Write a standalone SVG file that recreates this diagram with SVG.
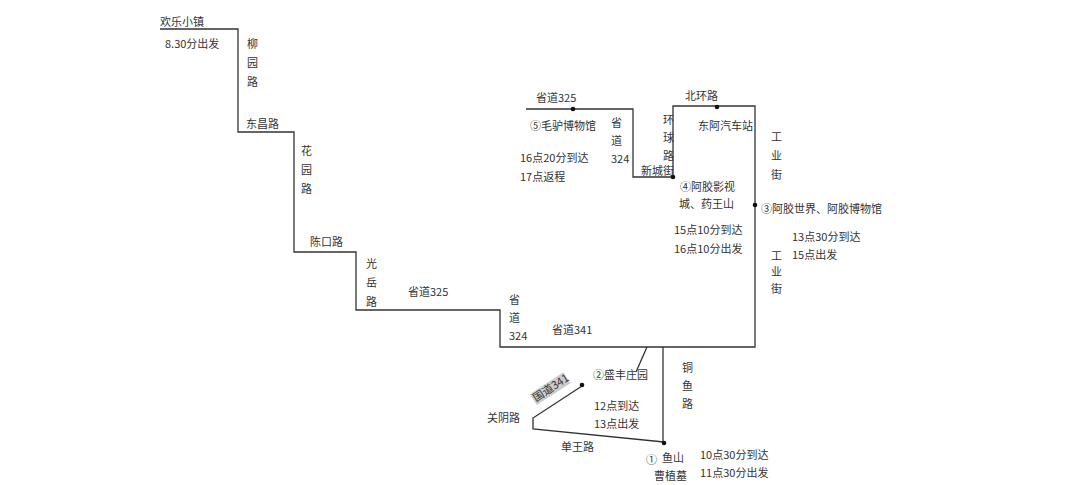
<svg xmlns="http://www.w3.org/2000/svg" width="1080" height="485" viewBox="0 0 1080 485">
<style>
.r{fill:none;stroke:#333;stroke-width:1.3}
text{font-family:"Noto Sans CJK SC","Noto Sans",sans-serif;font-size:11px;fill:#333}
.d{fill:#111}
</style>
<rect width="1080" height="485" fill="#fff"/>
<g id="connectors">
<polyline class="r" points="160,29 238,29 238,132 294,132 294,252 356,252 356,310 500,310 500,347 755,347 755,106 673,106 673,177 633,177 633,109 526,109"/>
<polyline class="r" points="647,347 636,372"/>
<polyline class="r" points="582,386 533,418 533,429 664,442"/>
<line class="r" x1="663" y1="347" x2="663" y2="443"/>
</g>
<g id="dots">
<circle class="d" cx="573" cy="109" r="2.3"/>
<circle class="d" cx="717" cy="107" r="2.3"/>
<circle class="d" cx="673" cy="177" r="2.3"/>
<circle class="d" cx="755" cy="205" r="2.3"/>
<circle class="d" cx="582" cy="385" r="2.3"/>
<circle class="d" cx="664" cy="443" r="2.3"/>
</g>
<g id="labels">
<text x="160" y="26">欢乐小镇</text>
<text x="165" y="48">8.30分出发</text>
<text x="247" y="48">柳</text><text x="247" y="67">园</text><text x="247" y="86">路</text>
<text x="246" y="128">东昌路</text>
<text x="301" y="155">花</text><text x="301" y="174">园</text><text x="301" y="193">路</text>
<text x="310" y="246">陈口路</text>
<text x="366" y="268">光</text><text x="366" y="287">岳</text><text x="366" y="306">路</text>
<text x="408" y="296">省道325</text>
<text x="509" y="304">省</text><text x="509" y="322">道</text><text x="509" y="340">324</text>
<text x="552" y="334">省道341</text>
<text x="536" y="102">省道325</text>
<text x="530" y="130">⑤毛驴博物馆</text>
<text x="520" y="162">16点20分到达</text>
<text x="520" y="181">17点返程</text>
<text x="611" y="127">省</text><text x="611" y="145">道</text><text x="611" y="163">324</text>
<text x="641" y="175">新城街</text>
<text x="663" y="124">环</text><text x="663" y="142">球</text><text x="663" y="160">路</text>
<text x="685" y="100">北环路</text>
<text x="698" y="130">东阿汽车站</text>
<text x="771" y="141">工</text><text x="771" y="160">业</text><text x="771" y="179">街</text>
<text x="680" y="191">④阿胶影视</text>
<text x="679" y="208">城、药王山</text>
<text x="761" y="213">③阿胶世界、阿胶博物馆</text>
<text x="674" y="234">15点10分到达</text>
<text x="674" y="253">16点10分出发</text>
<text x="792" y="241">13点30分到达</text>
<text x="792" y="259">15点出发</text>
<text x="771" y="260">工</text><text x="771" y="276">业</text><text x="771" y="293">街</text>
<text x="682" y="372">铜</text><text x="682" y="390">鱼</text><text x="682" y="408">路</text>
<text x="593" y="379">②盛丰庄园</text>
<g transform="rotate(-33 536 402)"><rect x="535" y="392" width="40" height="13" fill="#ccc"/><text x="536" y="402">国道341</text></g>
<text x="594" y="410">12点到达</text>
<text x="594" y="428">13点出发</text>
<text x="487" y="422">关阴路</text>
<text x="561" y="451">单王路</text>
<text x="646" y="464">①</text>
<text x="662" y="462">鱼山</text>
<text x="654" y="480">曹植墓</text>
<text x="700" y="459">10点30分到达</text>
<text x="700" y="477">11点30分出发</text>
</g>
</svg>
